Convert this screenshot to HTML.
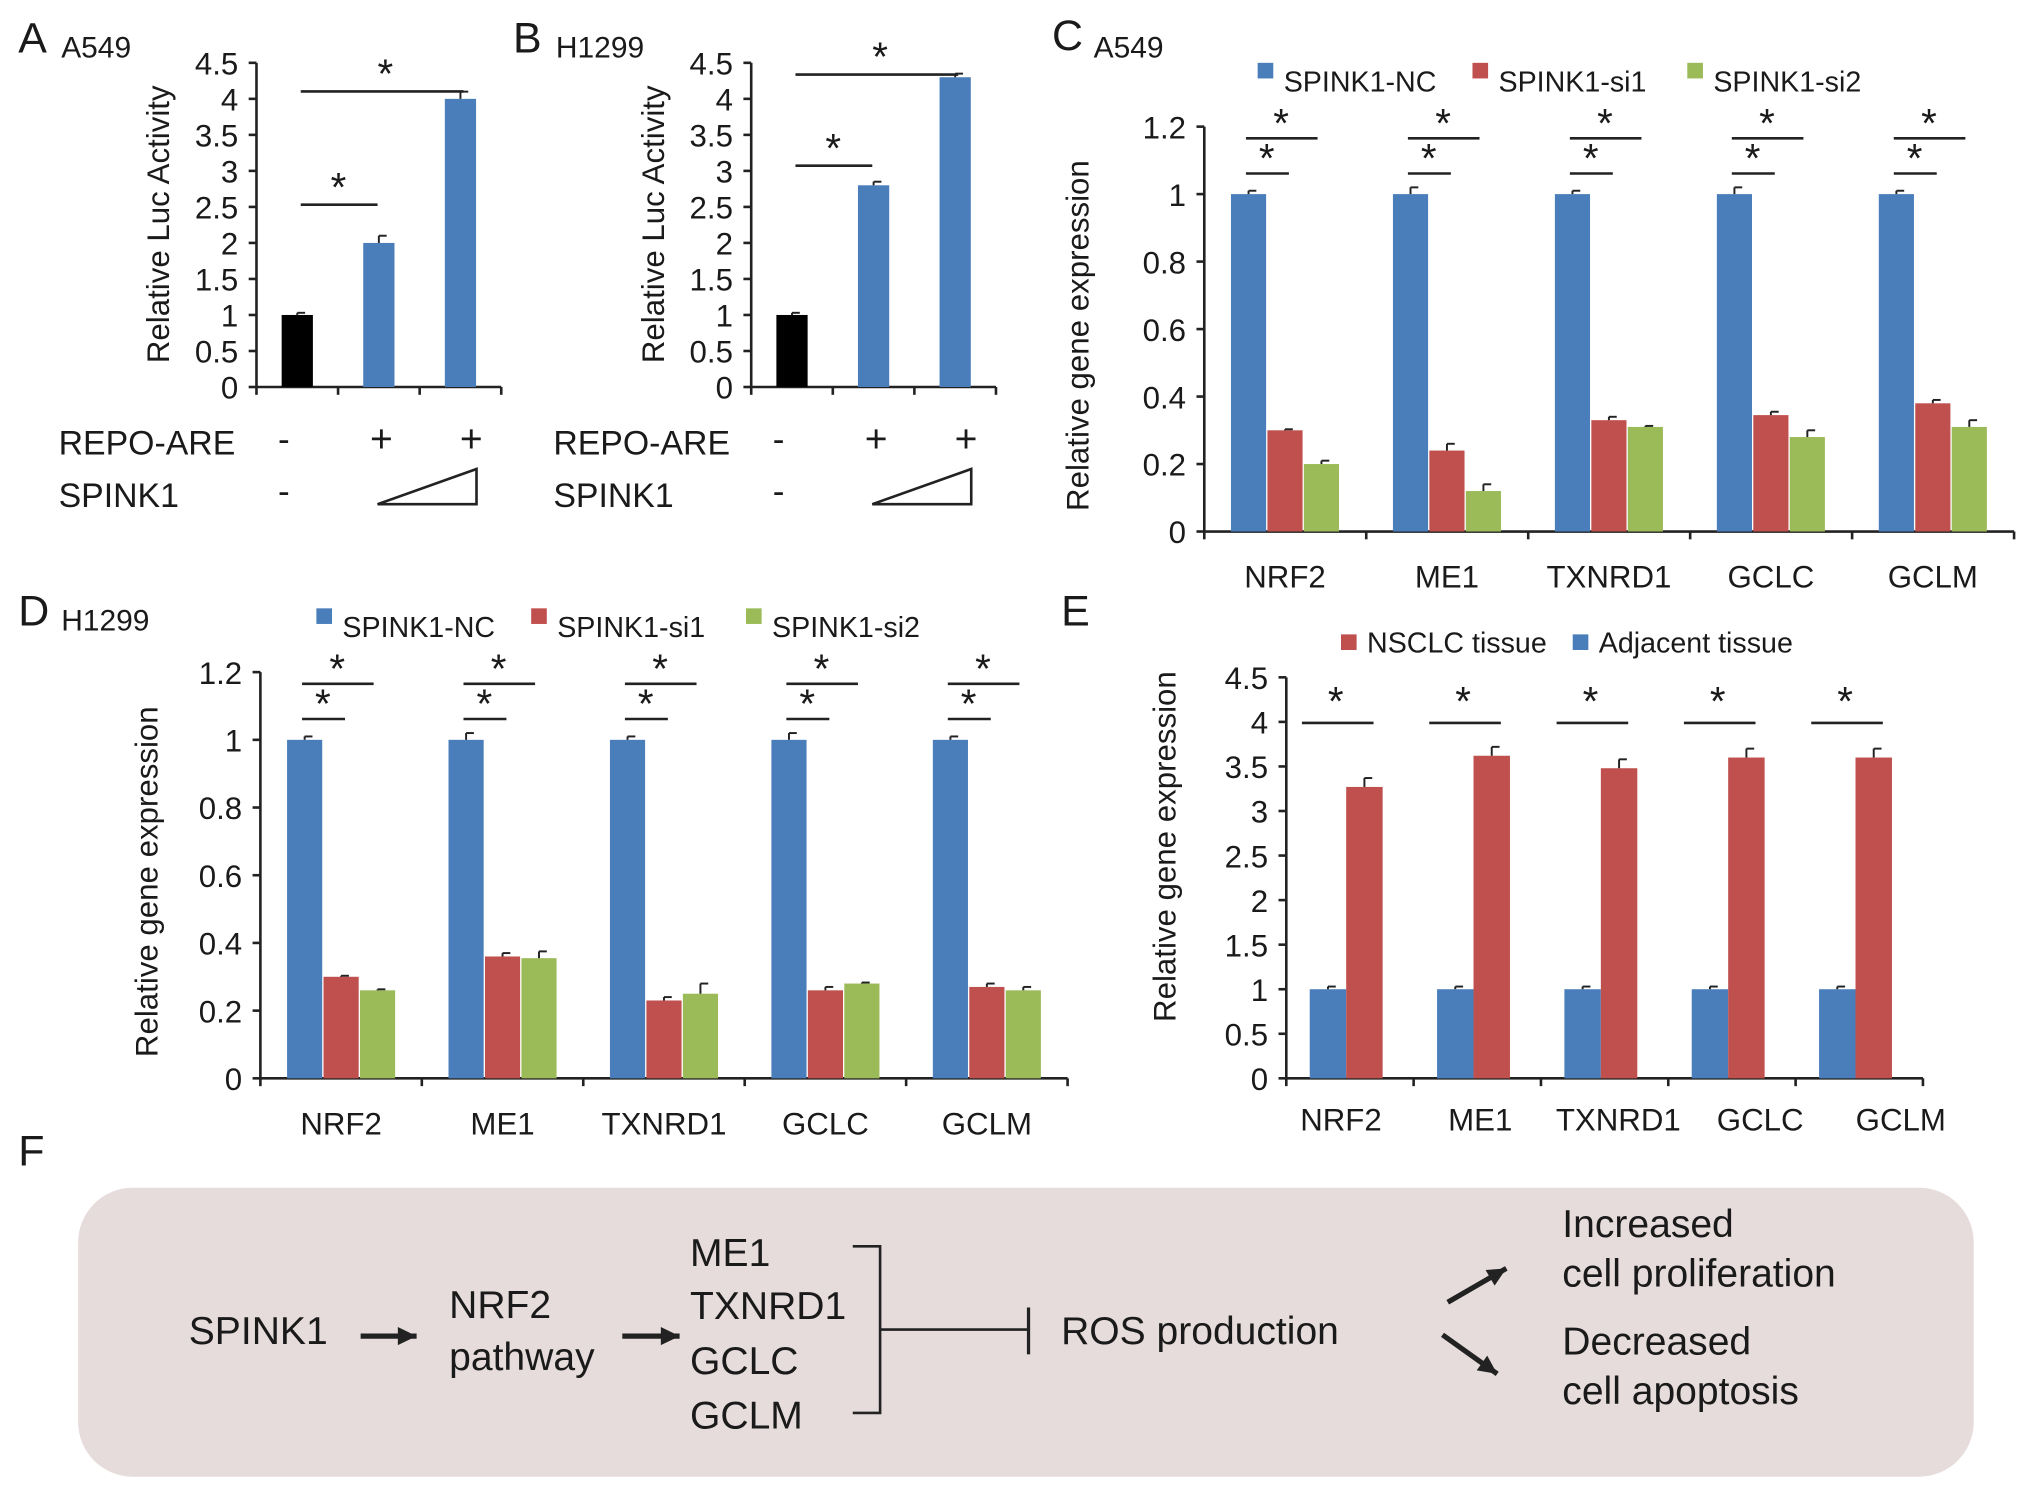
<!DOCTYPE html>
<html><head><meta charset="utf-8">
<style>html,body{margin:0;padding:0;background:#fff}svg{display:block}text{font-family:"Liberation Sans",sans-serif;fill:#1a1a1a}</style>
</head><body>
<svg id="fig" width="2031" height="1507" viewBox="0 0 1560 1157" xmlns="http://www.w3.org/2000/svg"></svg>
<script>
const luc_A_values=[1,2,4];
const luc_A_err=[0.03,0.1,0.1];
const luc_B_values=[1,2.8,4.3];
const luc_B_err=[0.03,0.05,0.05];
const luc_ticks=["0","0.5","1","1.5","2","2.5","3","3.5","4","4.5"];
const genes=["NRF2","ME1","TXNRD1","GCLC","GCLM"];
const series_names=["SPINK1-NC","SPINK1-si1","SPINK1-si2"];
const C_nc=[1,1,1,1,1];
const C_si1=[0.30,0.24,0.33,0.345,0.38];
const C_si2=[0.20,0.12,0.31,0.28,0.31];
const C_err_nc=[0.01,0.02,0.01,0.02,0.01];
const C_err_si1=[0.003,0.02,0.01,0.01,0.01];
const C_err_si2=[0.01,0.02,0.003,0.02,0.02];
const D_nc=[1,1,1,1,1];
const D_si1=[0.30,0.36,0.23,0.26,0.27];
const D_si2=[0.26,0.355,0.25,0.28,0.26];
const D_err_nc=[0.01,0.02,0.01,0.02,0.01];
const D_err_si1=[0.003,0.01,0.01,0.01,0.01];
const D_err_si2=[0.003,0.02,0.03,0.003,0.01];
const expr_ticks=["0","0.2","0.4","0.6","0.8","1","1.2"];
const E_tumor=[3.27,3.62,3.48,3.6,3.6];
const E_adj=[1,1,1,1,1];
const E_err_tumor=[0.1,0.1,0.1,0.1,0.1];
const E_err_adj=[0.03,0.03,0.03,0.03,0.03];
const E_ticks=["0","0.5","1","1.5","2","2.5","3","3.5","4","4.5"];

const svg=document.getElementById('fig');
const NS="http://www.w3.org/2000/svg";
function mk(tag,attrs,name,txt){const e=document.createElementNS(NS,tag);for(const k in attrs)e.setAttribute(k,attrs[k]);


if(txt!==undefined)e.textContent=txt;svg.appendChild(e);return e;}
function line(x1,y1,x2,y2,name,w){return mk('line',{x1,y1,x2,y2,stroke:'#222','stroke-width':w||2},name);}
function text(x,y,s,size,name,anchor,extra){const a={x,y,'font-size':size};if(anchor)a['text-anchor']=anchor;if(extra)Object.assign(a,extra);return mk('text',a,name,s);}
const BLUE='#4a7ebb',RED='#c0504d',GREEN='#9bbb59';

function axes(x0,xEnd,yTop,yBot,ticks,max,ngroups,pre){
  const sy=v=>yBot-(v/max)*(yBot-yTop);
  line(x0,yTop,x0,yBot,pre+'-y-axis');
  line(x0,yBot,xEnd,yBot,pre+'-x-axis');
  ticks.forEach((t,i)=>{const v=+t;const y=sy(v);line(x0-6,y,x0,y,pre+'-y-tick');text(x0-14,y+9,t,24,pre+'-y-tick-label','end');});
  const gw=(xEnd-x0)/ngroups;
  for(let i=0;i<=ngroups;i++)line(x0+i*gw,yBot,x0+i*gw,yBot+6,pre+'-x-tick');
  return sy;
}
function bar(cx,w,v,err,sy,color,name){
  const y=sy(v),y0=sy(0);
  mk('rect',{x:cx-w/2,y:y,width:w,height:y0-y,fill:color},name);
  const ye=sy(v+err);line(cx,y,cx,ye,name+'-error',1.5);line(cx,ye,cx+6,ye,name+'-error-cap',1.5);
}
function star(x,y,name){text(x,y+2,'*',31,name,'middle');}

function lucPanel(dx,vals,errs,letter,cell,pre,sig){
  text(dx+14,40,letter,33,pre+'-panel-letter');text(dx+47,44,cell,23,pre+'-cell-line');
  const x0=dx+197,xE=dx+385,yT=48,yB=297;
  const sy=axes(x0,xE,yT,yB,luc_ticks,4.5,3,pre);
  const gw=(xE-x0)/3;
  vals.forEach((v,i)=>bar(x0+gw*(i+0.5),24,v,errs[i],sy,i===0?'#000':BLUE,pre+'-bar-'+i));
  const t=text(dx+130,172,'Relative Luc Activity',24,pre+'-y-axis-title','middle');t.setAttribute('transform',`rotate(-90 ${dx+130} 172)`);
  line(dx+231,sig[0],dx+290,sig[0],pre+'-sig-line-1');star(dx+260,sig[0]-5,pre+'-sig-star-1');
  line(dx+231,sig[1],dx+356,sig[1],pre+'-sig-line-2');star(dx+296,sig[1]-5,pre+'-sig-star-2');
  text(dx+45,349,'REPO-ARE',26,pre+'-repo-are-label');text(dx+218,346,'-',27,pre+'-repo-minus','middle');
  text(dx+293,347,'+',30,pre+'-repo-plus-1','middle');text(dx+362,347,'+',30,pre+'-repo-plus-2','middle');
  text(dx+45,389,'SPINK1',26,pre+'-spink1-label');text(dx+218,386,'-',27,pre+'-spink1-minus','middle');
  mk('polygon',{points:`${dx+290},387 ${dx+366},387 ${dx+366},360`,fill:'none',stroke:'#222','stroke-width':2},pre+'-spink1-dose-triangle');
}
lucPanel(0,luc_A_values,luc_A_err,'A','A549','panel-a',[157,70]);
lucPanel(380,luc_B_values,luc_B_err,'B','H1299','panel-b',[127,57]);

function exprPanel(x0,xE,yT,yB,nc,s1,s2,enc,e1,e2,pre,legendY,legX,ylabX){
  const sy=axes(x0,xE,yT,yB,expr_ticks,1.2,5,pre);
  const gw=(xE-x0)/5;
  genes.forEach((g,i)=>{
    const c=x0+gw*i+62;
    bar(c-28,27,nc[i],enc[i],sy,BLUE,pre+'-bar-nc-'+g);
    bar(c,27,s1[i],e1[i],sy,RED,pre+'-bar-si1-'+g);
    bar(c+28,27,s2[i],e2[i],sy,GREEN,pre+'-bar-si2-'+g);
    text(c,yB+43,g,24,pre+'-x-label','middle');
    const top=sy(1.2);
    line(c-30,top+9,c+25,top+9,pre+'-sig-line-long');star(c-3,top+6,pre+'-sig-star-long');
    line(c-30,top+36,c+3,top+36,pre+'-sig-line-short');star(c-14,top+33,pre+'-sig-star-short');
  });
  const cols=[BLUE,RED,GREEN];
  series_names.forEach((s,i)=>{mk('rect',{x:legX+i*165,y:legendY-14,width:12,height:12,fill:cols[i]},pre+'-legend-swatch');text(legX+20+i*165,legendY+8,s,22,pre+'-legend-entry');});
  const ym=(yT+yB)/2+5;const t=text(ylabX,ym,'Relative gene expression',24,pre+'-y-axis-title','middle');t.setAttribute('transform',`rotate(-90 ${ylabX} ${ym})`);
}
text(808,38,'C',33,'panel-c-letter');text(840,44,'A549',23,'panel-c-cell-line');
exprPanel(925,1547,97,408,C_nc,C_si1,C_si2,C_err_nc,C_err_si1,C_err_si2,'panel-c',62,966,836);
text(14,480,'D',33,'panel-d-letter');text(47,484,'H1299',23,'panel-d-cell-line');
exprPanel(200,820,516,828,D_nc,D_si1,D_si2,D_err_nc,D_err_si1,D_err_si2,'panel-d',481,243,121);

text(815,480,'E',33,'panel-e-letter');
(function(){
  const x0=988,xE=1477,yT=520,yB=828;
  const sy=axes(x0,xE,yT,yB,E_ticks,4.5,5,'panel-e');
  const gw=(xE-x0)/5;
  const lx=[1030,1137,1243,1352,1460];
  genes.forEach((g,i)=>{
    const c=x0+gw*i+46;
    bar(c-14,28,E_adj[i],E_err_adj[i],sy,BLUE,'panel-e-bar-adjacent-'+g);
    bar(c+14,28,E_tumor[i],E_err_tumor[i],sy,RED,'panel-e-bar-nsclc-'+g);
    text(lx[i],yB+40,g,24,'panel-e-x-label','middle');
    line(c-34,555,c+21,555,'panel-e-sig-line');star(c-8,547,'panel-e-sig-star');
  });
  mk('rect',{x:1030,y:487,width:12,height:12,fill:RED},'panel-e-legend-swatch');text(1050,501,'NSCLC tissue',22,'panel-e-legend-entry');
  mk('rect',{x:1208,y:487,width:12,height:12,fill:BLUE},'panel-e-legend-swatch');text(1228,501,'Adjacent tissue',22,'panel-e-legend-entry');
  const t=text(903,650,'Relative gene expression',24,'panel-e-y-axis-title','middle');t.setAttribute('transform','rotate(-90 903 650)');
})();

text(14,895,'F',33,'panel-f-letter');
mk('rect',{x:60,y:912,width:1456,height:222,rx:42,fill:'#e7dcdc'},'pathway-diagram-box');
text(145,1032,'SPINK1',30,'spink1-node');
function arrow(x1,y1,x2,y2,name){line(x1,y1,x2,y2,name,4);const a=Math.atan2(y2-y1,x2-x1),L=16;
mk('polygon',{points:`${x2},${y2} ${x2-L*Math.cos(a-0.45)},${y2-L*Math.sin(a-0.45)} ${x2-L*Math.cos(a+0.45)},${y2-L*Math.sin(a+0.45)}`,fill:'#222'},name+'-head');}
arrow(277,1026,320,1026,'arrow-spink1-nrf2');
text(345,1012,'NRF2',30,'nrf2-node');text(345,1052,'pathway',30,'nrf2-pathway-label');
arrow(478,1026,522,1026,'arrow-nrf2-genes');
text(530,972,'ME1',30,'gene-me1');text(530,1013,'TXNRD1',30,'gene-txnrd1');text(530,1055,'GCLC',30,'gene-gclc');text(530,1097,'GCLM',30,'gene-gclm');
mk('polyline',{points:'655,957 676,957 676,1085 655,1085',fill:'none',stroke:'#222','stroke-width':2},'gene-bracket');
line(676,1021,790,1021,'inhibition-line');line(790,1004,790,1040,'inhibition-bar',2.5);
text(815,1032,'ROS production',30,'ros-node');
arrow(1112,1000,1157,974,'arrow-up');arrow(1108,1025,1150,1055,'arrow-down');
text(1200,950,'Increased',30,'increased-label');text(1200,988,'cell proliferation',30,'proliferation-label');
text(1200,1040,'Decreased',30,'decreased-label');text(1200,1078,'cell apoptosis',30,'apoptosis-label');
</script>
</body></html>
